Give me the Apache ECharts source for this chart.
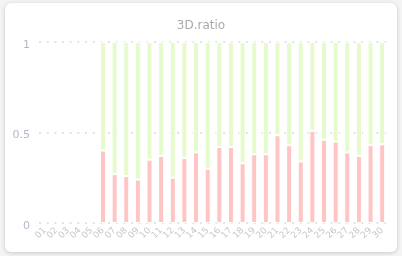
<!DOCTYPE html>
<html>
<head>
<meta charset="utf-8">
<script src="https://cdn.jsdelivr.net/npm/echarts@6/dist/echarts.min.js"></script>
<style>
html,body{margin:0;padding:0;width:402px;height:256px;background:#f4f4f4;overflow:hidden;}
#card{position:absolute;left:5px;top:3px;width:392px;height:249px;background:#fff;border-radius:6px;box-shadow:0 1px 4px rgba(0,0,0,0.18);}
#chart{position:absolute;left:0;top:0;width:402px;height:256px;}
</style>
</head>
<body>
<div id="card"></div>
<div id="chart"></div>
<script>
const categories = ['01','02','03','04','05','06','07','08','09','10','11','12','13','14','15','16','17','18','19','20','21','22','23','24','25','26','27','28','29','30'];
const ratio3D = [null,null,null,null,null,0.40,0.27,0.26,0.24,0.35,0.37,0.25,0.36,0.39,0.30,0.42,0.42,0.33,0.38,0.38,0.485,0.43,0.34,0.51,0.46,0.45,0.39,0.37,0.43,0.435];
const rest = ratio3D.map(v => v == null ? null : +(1 - v).toFixed(3));
const yTicks = [0, 0.5, 1];

const chart = echarts.init(document.getElementById('chart'), null, {renderer:'canvas'});
chart.setOption({
  animation: false,
  backgroundColor: 'transparent',
  title: {
    text: '3D.ratio', left: 'center', top: 15,
    textStyle: {fontSize: 12, fontWeight: 'normal', color: '#aaaaaa', fontFamily: 'DejaVu Sans'}
  },
  grid: {left: 39, right: 14, top: 42, bottom: 33, containLabel: false},
  xAxis: {
    type: 'category', data: categories,
    axisLine: {show: false}, axisTick: {show: false},
    axisLabel: {rotate: 45, fontSize: 9, color: '#c8c8c8', margin: 6, interval: 0, fontFamily: 'DejaVu Sans'}
  },
  yAxis: {
    type: 'value', min: yTicks[0], max: yTicks[yTicks.length-1], interval: 0.5,
    axisLine: {show: false}, axisTick: {show: false},
    axisLabel: {fontSize: 11, color: '#b4b8cc', margin: 9, verticalAlign: 'top', lineHeight: 6, fontFamily: 'DejaVu Sans'},
    splitLine: {lineStyle: {color: '#e4e4e4', width: 2, type: [2, 5.67]}}
  },
  series: [
    {type: 'bar', stack: 'r', data: ratio3D, barWidth: 6,
     itemStyle: {color: '#ffc4c4', borderColor: '#fff', borderWidth: 1}},
    {type: 'bar', stack: 'r', data: rest, barWidth: 6,
     itemStyle: {color: '#e6fbcc', borderColor: '#fff', borderWidth: 1}}
  ]
});
</script>
</body>
</html>
